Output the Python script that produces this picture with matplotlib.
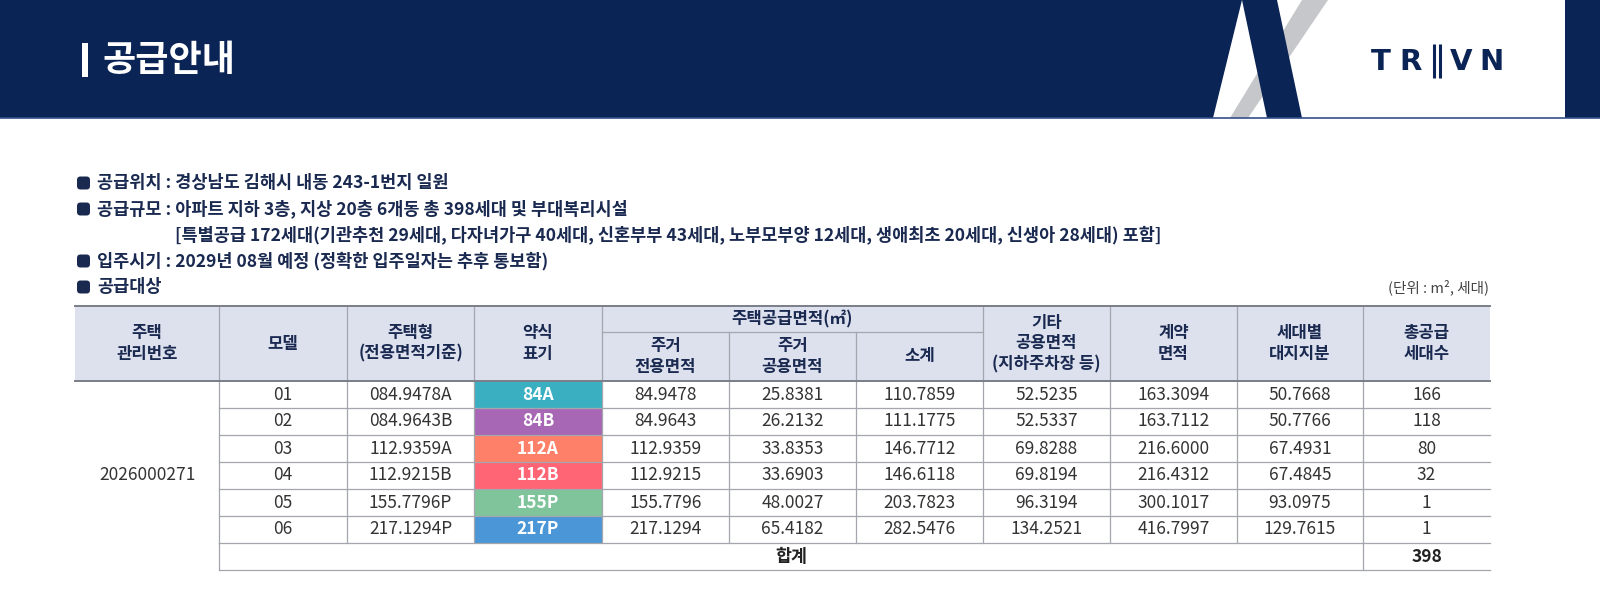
import numpy as np
import matplotlib
matplotlib.use('Agg')
import matplotlib.pyplot as plt
from matplotlib.patches import Rectangle, Polygon, FancyBboxPatch

plt.rcParams['font.family'] = ['Noto Sans CJK KR', 'DejaVu Sans']

# ---- data ----
mgmt_no = '2026000271'
models = ['01', '02', '03', '04', '05', '06']
house_types = ['084.9478A', '084.9643B', '112.9359A', '112.9215B', '155.7796P', '217.1294P']
short_labels = ['84A', '84B', '112A', '112B', '155P', '217P']
excl_area = [84.9478, 84.9643, 112.9359, 112.9215, 155.7796, 217.1294]
common_area = [25.8381, 26.2132, 33.8353, 33.6903, 48.0027, 65.4182]
subtotal = [110.7859, 111.1775, 146.7712, 146.6118, 203.7823, 282.5476]
other_common = [52.5235, 52.5337, 69.8288, 69.8194, 96.3194, 134.2521]
contract_area = [163.3094, 163.7112, 216.6000, 216.4312, 300.1017, 416.7997]
land_share = [50.7668, 50.7766, 67.4931, 67.4845, 93.0975, 129.7615]
households = [166, 118, 80, 32, 1, 1]

badge_colors = ['#3aafc2', '#a867b5', '#ff8068', '#ff6575', '#80c49c', '#4a96d6']

info_lines = [
    ('공급위치 : 경상남도 김해시 내동 243-1번지 일원', True),
    ('공급규모 : 아파트 지하 3층, 지상 20층 6개동 총 398세대 및 부대복리시설', True),
    ('[특별공급 172세대(기관추천 29세대, 다자녀가구 40세대, 신혼부부 43세대, '
     '노부모부양 12세대, 생애최초 20세대, 신생아 28세대) 포함]', False),
    ('입주시기 : 2029년 08월 예정 (정확한 입주일자는 추후 통보함)', True),
    ('공급대상', True),
]

col_heads = ['주택\n관리번호', '모델', '주택형\n(전용면적기준)', '약식\n표기',
             '주거\n전용면적', '주거\n공용면적', '소계',
             '기타\n공용면적\n(지하주차장 등)', '계약\n면적', '세대별\n대지지분', '총공급\n세대수']
group_head = '주택공급면적(㎡)'

NAVY = '#0b2456'
TXT_NAVY = '#1a2950'
HEAD_BG = '#dde1ee'
LINE = '#a3a6ad'
DARK_LINE = '#7a7e88'

fig = plt.figure(figsize=(16, 5.93), dpi=100)
ax = fig.add_axes([0, 0, 1, 1])
ax.set_xlim(0, 1600)
ax.set_ylim(593, 0)
ax.axis('off')

# ---- header band ----
ax.add_patch(Rectangle((0, 0), 1600, 118, color='white', zorder=0))
ax.add_patch(Polygon([(0, 0), (1242, 0), (1213, 118), (0, 118)], closed=True, color=NAVY, lw=0))
ax.add_patch(Polygon([(1230, 118), (1248, 118), (1328, 0), (1302, 0)], closed=True,
                     color='#c6c7ca', lw=0))
ax.add_patch(Polygon([(1242, 0), (1277, 0), (1302, 118), (1267, 118)], closed=True,
                     color=NAVY, lw=0))
ax.add_patch(Rectangle((1565, 0), 35, 118, color=NAVY, lw=0))
ax.plot([0, 1600], [117.5, 117.5], color='#34508a', lw=1.2)

ax.add_patch(Rectangle((82, 43), 6, 34, color='white', lw=0))
ax.text(102, 61, '공급안내', color='white', fontsize=26, fontweight='bold',
        ha='left', va='center')

# logo
for ch, cx in zip('TRVN', [1381, 1411, 1461, 1491]):
    ax.text(cx, 62, ch, color=NAVY, fontsize=21, fontweight='bold', family='DejaVu Sans',
            ha='center', va='center')
for bx in [1433.5, 1440]:
    ax.plot([bx, bx], [44, 78], color=NAVY, lw=2.2, solid_capstyle='butt')

# ---- info lines ----
line_y = [183, 209, 235, 261, 287]
for (txt, bullet), y in zip(info_lines, line_y):
    if bullet:
        ax.add_patch(FancyBboxPatch((77, y - 6.5), 13, 13, boxstyle='round,pad=0,rounding_size=3.5',
                                    color=TXT_NAVY, lw=0))
        ax.text(97, y, txt, color=TXT_NAVY, fontsize=12.6, fontweight='bold',
                ha='left', va='center')
    else:
        ax.text(175, y, txt, color=TXT_NAVY, fontsize=12.6, fontweight='bold',
                ha='left', va='center')

ax.text(1489, 287, '(단위 : m², 세대)', color='#444444', fontsize=10.5,
        ha='right', va='center')

# ---- table ----
col_x = [75, 219, 347, 474, 602, 729, 856, 983, 1110, 1237, 1363, 1490]
top, mid, head_bot = 306, 332, 381
row_h = 27
n = len(models)
row_y = [head_bot + i * row_h for i in range(n + 2)]
bottom = row_y[-1]

ax.add_patch(Rectangle((col_x[0], top), col_x[-1] - col_x[0], head_bot - top,
                       color=HEAD_BG, lw=0, zorder=1))

# badges
for i, c in enumerate(badge_colors):
    ax.add_patch(Rectangle((col_x[3], row_y[i]), col_x[4] - col_x[3], row_h,
                           color=c, lw=0, zorder=1))

# header vertical lines
for k in range(1, 11):
    x = col_x[k]
    if k in (5, 6):
        ax.plot([x, x], [mid, head_bot], color=LINE, lw=0.9, zorder=2)
    else:
        ax.plot([x, x], [top, head_bot], color=LINE, lw=0.9, zorder=2)
ax.plot([col_x[4], col_x[7]], [mid, mid], color=LINE, lw=0.9, zorder=2)

# body lines
for k in range(1, 11):
    ax.plot([col_x[k], col_x[k]], [head_bot, row_y[n]], color=LINE, lw=0.9, zorder=2)
ax.plot([col_x[1], col_x[1]], [row_y[n], bottom], color=LINE, lw=0.9, zorder=2)
ax.plot([col_x[10], col_x[10]], [row_y[n], bottom], color=LINE, lw=0.9, zorder=2)
for i in range(1, n + 1):
    ax.plot([col_x[1], col_x[-1]], [row_y[i], row_y[i]], color=LINE, lw=0.9, zorder=2)
ax.plot([col_x[1], col_x[-1]], [bottom, bottom], color=LINE, lw=0.9, zorder=2)

ax.plot([col_x[0], col_x[-1]], [top, top], color=DARK_LINE, lw=1.4, zorder=3)
ax.plot([col_x[0], col_x[-1]], [head_bot, head_bot], color=DARK_LINE, lw=1.4, zorder=3)

# header text
centers = [(col_x[k] + col_x[k + 1]) / 2 for k in range(11)]
for k, h in enumerate(col_heads):
    if k in (4, 5, 6):
        cy = (mid + head_bot) / 2
    else:
        cy = (top + head_bot) / 2
    ax.text(centers[k], cy, h, color=TXT_NAVY, fontsize=12, fontweight='bold',
            ha='center', va='center', linespacing=1.2, zorder=4)
ax.text((col_x[4] + col_x[7]) / 2, (top + mid) / 2, group_head, color=TXT_NAVY,
        fontsize=12, fontweight='bold', ha='center', va='center', zorder=4)

# body text
BODY = '#333333'
ax.text(centers[0], (head_bot + bottom) / 2, mgmt_no, color=BODY, fontsize=12.5,
        ha='center', va='center', zorder=4)
for i in range(n):
    cy = row_y[i] + row_h / 2
    vals = [models[i], house_types[i], None,
            '%.4f' % excl_area[i], '%.4f' % common_area[i], '%.4f' % subtotal[i],
            '%.4f' % other_common[i], '%.4f' % contract_area[i], '%.4f' % land_share[i],
            str(households[i])]
    for k, v in enumerate(vals, start=1):
        if v is None:
            ax.text(centers[k], cy, short_labels[i], color='white', fontsize=12.5,
                    fontweight='bold', ha='center', va='center', zorder=4)
        else:
            ax.text(centers[k], cy, v, color=BODY, fontsize=12.5,
                    ha='center', va='center', zorder=4)

cy = row_y[n] + row_h / 2
ax.text((col_x[1] + col_x[10]) / 2, cy, '합계', color='#222222', fontsize=12.5,
        fontweight='bold', ha='center', va='center', zorder=4)
ax.text(centers[10], cy, str(sum(households)), color='#222222', fontsize=12.5,
        fontweight='bold', ha='center', va='center', zorder=4)

fig.savefig('out.png', dpi=100)
